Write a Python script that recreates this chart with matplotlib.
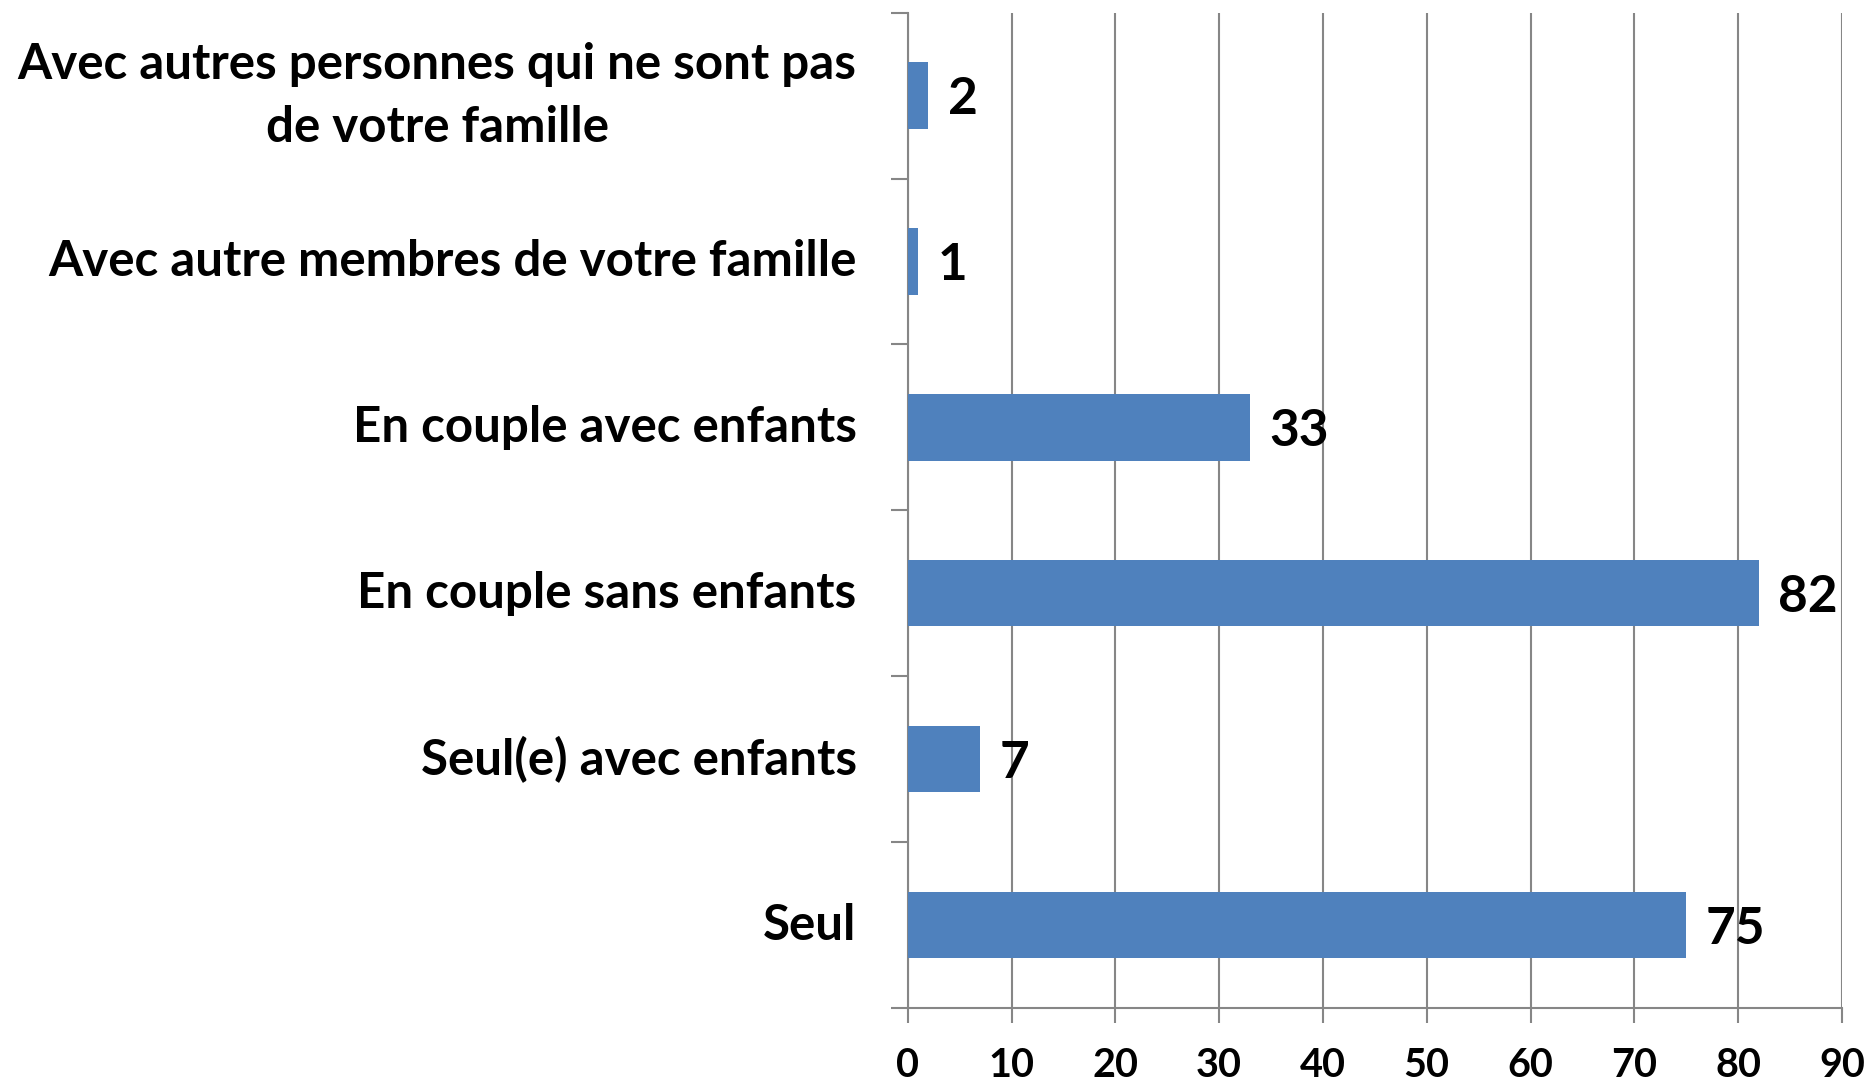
import matplotlib
matplotlib.use("Agg")
import matplotlib.pyplot as plt
import numpy as np

categories = [
    "Seul",
    "Seul(e) avec enfants",
    "En couple sans enfants",
    "En couple avec enfants",
    "Avec autre membres de votre famille",
    "Avec autres personnes qui ne sont pas\nde votre famille",
]
values = [75, 7, 82, 33, 1, 2]
xticks = [0, 10, 20, 30, 40, 50, 60, 70, 80, 90]

plt.rcParams['font.family'] = ['Lato', 'DejaVu Sans']
plt.rcParams['font.weight'] = 'bold'

W, H = 1871, 1085
fig = plt.figure(figsize=(W / 100, H / 100), dpi=100)
ax = fig.add_axes([907.7 / W, 1 - 1008 / H, (1842 - 907.7) / W, (1008 - 12.7) / H])

gray = "#868686"
bar_color = "#4F81BD"
y = np.arange(len(categories))
ax.barh(y, values, height=0.4, color=bar_color, zorder=3)

ax.set_xlim(0, 90)
ax.set_ylim(-0.5, len(categories) - 0.5)
ax.set_xticks(xticks)
ax.set_xticklabels([str(t) for t in xticks], fontsize=28.5, fontweight='bold')

# category labels at centers, ticks at boundaries
ax.set_yticks(y)
ax.set_yticklabels(categories, fontsize=35.5, fontweight='bold', multialignment='center',
                   linespacing=1.49, va='center')
ax.tick_params(axis='y', which='major', length=0, pad=51 * 0.72)
ax.set_yticks(np.arange(-0.5, len(categories), 1.0), minor=True)
ax.tick_params(axis='y', which='minor', length=17 * 0.72, width=1.5, color=gray, direction='out')
ax.tick_params(axis='x', which='major', length=15 * 0.72, width=1.5, color=gray, direction='out', pad=17)

ax.grid(axis='x', color=gray, linewidth=1.5, zorder=0)
ax.grid(axis='y', visible=False)
for s in ['top', 'right']:
    ax.spines[s].set_visible(False)
for s in ['left', 'bottom']:
    ax.spines[s].set_color(gray)
    ax.spines[s].set_linewidth(1.5)

for yi, v in zip(y, values):
    ax.annotate(str(v), xy=(v, yi), xytext=(14, -3), textcoords='offset points',
                ha='left', va='center', fontsize=37, fontweight='bold', color='black')

fig.savefig("out.png", dpi=100, facecolor='white')
